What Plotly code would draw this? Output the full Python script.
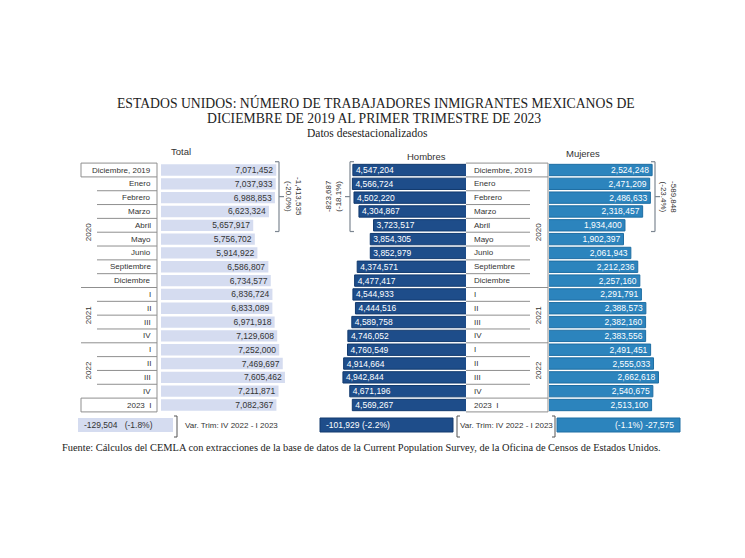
import plotly.graph_objects as go

W, H = 745, 558
OFF = 8                      # page body margin
FW, FH = W - 2 * OFF, H - 2 * OFF

# ---------------- data ----------------
row_labels = ["Diciembre, 2019", "Enero", "Febrero", "Marzo", "Abril", "Mayo", "Junio",
              "Septiembre", "Diciembre", "I", "II", "III", "IV", "I", "II", "III", "IV", "2023  I"]
year_labels = ["2020", "2021", "2022"]
year_first_row = [1, 9, 13]
year_last_row = [8, 12, 16]
total = [7071452, 7037933, 6988853, 6623324, 5657917, 5756702, 5914922, 6586807, 6734577,
         6836724, 6833089, 6971918, 7129608, 7252000, 7469697, 7605462, 7211871, 7082367]
hombres = [4547204, 4566724, 4502220, 4304867, 3723517, 3854305, 3852979, 4374571, 4477417,
           4544933, 4444516, 4589758, 4746052, 4760549, 4914664, 4942844, 4671196, 4569267]
mujeres = [2524248, 2471209, 2486633, 2318457, 1934400, 1902397, 2061943, 2212236, 2257160,
           2291791, 2388573, 2382160, 2383556, 2491451, 2555033, 2662618, 2540675, 2513100]
panel_titles = ["Total", "Hombres", "Mujeres"]
var_text = "Var. Trim: IV 2022 - I 2023"
title_lines = ["ESTADOS UNIDOS: NÚMERO DE TRABAJADORES INMIGRANTES MEXICANOS DE",
               "DICIEMBRE DE 2019 AL PRIMER TRIMESTRE DE 2023"]
subtitle = "Datos desestacionalizados"
source = ("Fuente: Cálculos del CEMLA con extracciones de la base de datos de la Current "
          "Population Survey, de la Oficina de Censos de Estados Unidos.")

# ---------------- helpers ----------------
def px(x):
    return (x - OFF) / FW

def py(y):
    return 1 - (y - OFF) / FH

def fmt(v):
    return f"{v:,}"

rows = list(range(len(row_labels)))
n = len(rows)

C_TOT = "#d5dcf0"
C_HOM = "#1e4d8a"
C_MUJ = "#2c84bd"
C_LINE = "#8f8f8f"
C_TXT = "#333333"
SANS = "Liberation Sans, Arial, sans-serif"
SERIF = "Liberation Serif, Times New Roman, serif"

# pixel scales (px per unit) of each panel
s_tot = 16.3e-6
s_hom = 25.1e-6
s_muj = 46e-6

fig = go.Figure()
fig.add_trace(go.Bar(
    y=rows, x=total, orientation="h", xaxis="x", yaxis="y", width=0.82,
    marker=dict(color=C_TOT, line=dict(width=0)),
    text=[fmt(v) for v in total], textposition="inside", insidetextanchor="end",
    constraintext="none", textfont=dict(color=C_TXT, size=8.5, family=SANS),
    hoverinfo="skip"))
fig.add_trace(go.Bar(
    y=rows, x=hombres, orientation="h", xaxis="x2", yaxis="y", width=0.82,
    marker=dict(color=C_HOM, line=dict(color="#123a6e", width=1)),
    text=[fmt(v) for v in hombres], textposition="inside", insidetextanchor="end",
    constraintext="none", textfont=dict(color="white", size=8.5, family=SANS),
    hoverinfo="skip"))
fig.add_trace(go.Bar(
    y=rows, x=mujeres, orientation="h", xaxis="x3", yaxis="y", width=0.82,
    marker=dict(color=C_MUJ, line=dict(color="#1f6ea3", width=1)),
    text=[fmt(v) for v in mujeres], textposition="inside", insidetextanchor="end",
    constraintext="none", textfont=dict(color="white", size=8.5, family=SANS),
    hoverinfo="skip"))

# y: row 0 at 170 px (window), 13.824 px per row
row_px = 13.824
y_top = -(170 - OFF) / row_px
y_bot = y_top + FH / row_px

shapes = []
ann = []

def A(**kw):
    kw.setdefault("showarrow", False)
    kw.setdefault("xanchor", "center")
    kw.setdefault("yanchor", "middle")
    ann.append(kw)

def hline(x0, x1, yv, color=C_LINE, w=1):
    shapes.append(dict(type="line", xref="paper", yref="y", x0=px(x0), x1=px(x1),
                       y0=yv, y1=yv, line=dict(color=color, width=w)))

def vline(xv, y0, y1, color=C_LINE, w=1):
    shapes.append(dict(type="line", xref="paper", yref="y", x0=px(xv), x1=px(xv),
                       y0=y0, y1=y1, line=dict(color=color, width=w)))

# ---- Total label column ----
L0, L1, L2 = 81, 97, 157
for i in rows:
    yv = i - 0.5
    full = (i == 0) or (i in year_first_row) or (i == n - 1)
    hline(L0 if full else L1, L2, yv)
hline(L0, L2, n - 0.5)
vline(L2, -0.5, n - 0.5)
vline(L0, -0.5, 0.5)
vline(L0, n - 1.5, n - 0.5)
for i, lab in enumerate(row_labels):
    A(x=px(153), y=i, xref="paper", yref="y", text=lab, xanchor="right",
      font=dict(size=8, color=C_TXT, family=SANS))
for lab, a, b in zip(year_labels, year_first_row, year_last_row):
    A(x=px(88), y=(a + b) / 2, xref="paper", yref="y", text=lab, textangle=-90,
      font=dict(size=8, color=C_TXT, family=SANS))

# ---- Middle label column ----
M0, M1, M2 = 466, 530, 548
shapes.append(dict(type="rect", xref="paper", yref="y", x0=px(M0), x1=px(M2),
                   y0=-0.5, y1=n - 0.5, fillcolor="white", line=dict(width=0), layer="above"))
for i in rows:
    yv = i - 0.5
    full = (i == 0) or (i in year_first_row) or (i == n - 1)
    hline(M0, M2 if full else M1, yv)
hline(M0, M2, n - 0.5)
vline(M2, -0.5, n - 0.5)
for i, lab in enumerate(row_labels):
    A(x=px(472), y=i, xref="paper", yref="y", text=lab, xanchor="left",
      font=dict(size=8, color=C_TXT, family=SANS))
for lab, a, b in zip(year_labels, year_first_row, year_last_row):
    A(x=px(538), y=(a + b) / 2, xref="paper", yref="y", text=lab, textangle=-90,
      font=dict(size=8, color=C_TXT, family=SANS))

# ---- brackets for the drop Dic 2019 -> Abril 2020 ----
drop_row = 4
def drop_text(series):
    d = series[drop_row] - series[0]
    return f"{fmt(d)}<br>({d / series[0] * 100:.1f}%)"

BR = dict(color="#7d8792", width=1.2)
def bracket(xv, cap_dir, tick_dir):
    y0, y1 = -0.6, drop_row + 0.45
    shapes.append(dict(type="line", xref="paper", yref="y", x0=px(xv), x1=px(xv), y0=y0, y1=y1, line=BR))
    for yy in (y0, y1):
        shapes.append(dict(type="line", xref="paper", yref="y", x0=px(xv), x1=px(xv + 4 * cap_dir),
                           y0=yy, y1=yy, line=BR))
    ym = (y0 + y1) / 2
    shapes.append(dict(type="line", xref="paper", yref="y", x0=px(xv), x1=px(xv + 5 * tick_dir),
                       y0=ym, y1=ym, line=BR))
    return ym

ym = bracket(279, -1, 1)
A(x=px(293.5), y=ym, xref="paper", yref="y", text=drop_text(total), textangle=90,
  font=dict(size=8, color=C_TXT, family=SANS))
bracket(350, 1, -1)
A(x=px(333.5), y=ym, xref="paper", yref="y", text=drop_text(hombres), textangle=-90,
  font=dict(size=8, color=C_TXT, family=SANS))
bracket(655, -1, 1)
A(x=px(668.5), y=ym, xref="paper", yref="y", text=drop_text(mujeres), textangle=90,
  font=dict(size=8, color=C_TXT, family=SANS))

# ---- bottom variation row ----
def var(series):
    d = series[-1] - series[-2]
    return d, d / series[-2] * 100

vt, pt = var(total)
vh, ph = var(hombres)
vm, pm = var(mujeres)
yb0, yb1 = 418, 432
shapes.append(dict(type="rect", xref="paper", yref="paper", x0=px(78), x1=px(173),
                   y0=py(yb1), y1=py(yb0), fillcolor=C_TOT, line=dict(width=0)))
shapes.append(dict(type="rect", xref="paper", yref="paper", x0=px(320), x1=px(453),
                   y0=py(yb1), y1=py(yb0), fillcolor=C_HOM, line=dict(color="#123a6e", width=1)))
shapes.append(dict(type="rect", xref="paper", yref="paper", x0=px(557), x1=px(680),
                   y0=py(yb1), y1=py(yb0), fillcolor=C_MUJ, line=dict(color="#1f6ea3", width=1)))
A(x=px(82), y=py(425), xref="paper", yref="paper",
  text=f"{fmt(vt)}&nbsp;&nbsp;&nbsp;({pt:.1f}%)", xanchor="left",
  font=dict(size=8.5, color=C_TXT, family=SANS))
A(x=px(324), y=py(425), xref="paper", yref="paper",
  text=f"{fmt(vh)} ({ph:.1f}%)", xanchor="left",
  font=dict(size=8.5, color="white", family=SANS))
A(x=px(676), y=py(425), xref="paper", yref="paper",
  text=f"({pm:.1f}%) {fmt(vm)}", xanchor="right",
  font=dict(size=8.5, color="white", family=SANS))
A(x=px(183), y=py(425), xref="paper", yref="paper", text=var_text, xanchor="left",
  font=dict(size=8, color=C_TXT, family=SANS))
A(x=px(506), y=py(425), xref="paper", yref="paper", text=var_text,
  font=dict(size=8, color=C_TXT, family=SANS))

BR2 = dict(color="#555555", width=1)
def pbracket(xv, cap_dir):
    y0, y1 = 416, 437
    shapes.append(dict(type="line", xref="paper", yref="paper", x0=px(xv), x1=px(xv),
                       y0=py(y0), y1=py(y1), line=BR2))
    for yy in (y0, y1):
        shapes.append(dict(type="line", xref="paper", yref="paper", x0=px(xv), x1=px(xv + 3 * cap_dir),
                           y0=py(yy), y1=py(yy), line=BR2))

pbracket(177, -1)
pbracket(457, 1)
pbracket(555, -1)

# ---- headers, titles, source ----
for t, xc, yc in zip(panel_titles, [181, 426, 583], [152, 156, 153]):
    A(x=px(xc), y=py(yc), xref="paper", yref="paper", text=t,
      font=dict(size=9.5, color=C_TXT, family=SANS))
A(x=px(376), y=py(103), xref="paper", yref="paper", text=title_lines[0],
  font=dict(size=13.7, color="#222222", family=SERIF))
A(x=px(374), y=py(118), xref="paper", yref="paper", text=title_lines[1],
  font=dict(size=13.7, color="#222222", family=SERIF))
A(x=px(367), y=py(133), xref="paper", yref="paper", text=subtitle,
  font=dict(size=11.5, color="#222222", family=SERIF))
A(x=px(60), y=py(447), xref="paper", yref="paper", text=source, xanchor="left",
  font=dict(size=10.4, color="#222222", family=SERIF))

ax_common = dict(visible=False, showgrid=False, zeroline=False, fixedrange=True, anchor="y")
fig.update_layout(
    width=FW, height=FH, margin=dict(l=0, r=0, t=0, b=0),
    paper_bgcolor="white", plot_bgcolor="rgba(0,0,0,0)", showlegend=False,
    barmode="overlay",
    xaxis=dict(domain=[px(161), px(300)], range=[0, (300 - 161) / s_tot], **ax_common),
    xaxis2=dict(domain=[px(330), px(467)], range=[(467 - 330) / s_hom, 0], **ax_common),
    xaxis3=dict(domain=[px(549), px(680)], range=[(549 - 536) / s_muj, (680 - 536) / s_muj], **ax_common),
    yaxis=dict(domain=[0, 1], range=[y_bot, y_top], visible=False, fixedrange=True, anchor="x"),
    shapes=shapes, annotations=ann,
)
fig.write_html("out.html")
